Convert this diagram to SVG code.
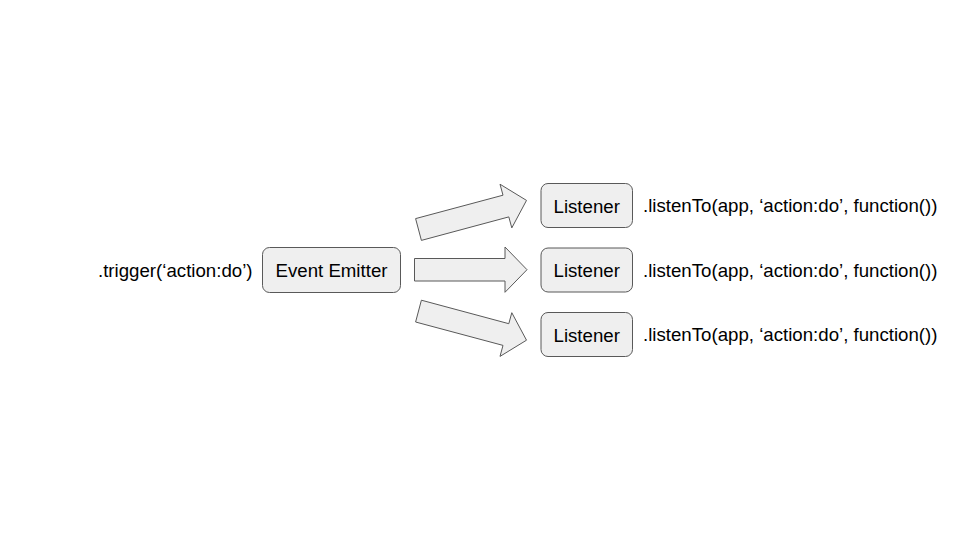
<svg xmlns="http://www.w3.org/2000/svg" width="960" height="540" viewBox="0 0 960 540">
<style>
.box{fill:#efefef;stroke:#595959;stroke-width:1}
.arrow{fill:#efefef;stroke:#595959;stroke-width:1;stroke-linejoin:miter}
text{font-family:"Liberation Sans",Arial,sans-serif;font-size:18.67px;fill:#000}
.c{text-anchor:middle}
</style>
<rect width="960" height="540" fill="#fff"/>
<g id="connectors">
<polygon class="arrow" points="415.6,218.6 503,195.2 500,184.2 526.5,200.4 511.8,227.9 508.8,216.9 421.4,240.4"/>
<polygon class="arrow" points="414.5,258.5 505,258.5 505,247 527,269.7 505,292.3 505,281 414.5,281"/>
<polygon class="arrow" points="415.6,322 503,345.4 500,356.4 526.5,340.2 511.8,312.7 508.8,323.7 421.4,300.2"/>
</g>
<g id="trigger-label"><text x="98" y="277">.trigger(‘action:do’)</text></g>
<g id="emitter">
<rect class="box" x="262.5" y="247.5" width="138" height="45" rx="7"/>
<text class="c" x="331.5" y="277">Event Emitter</text>
</g>
<g id="listener1">
<rect class="box" x="541" y="183.5" width="91.5" height="44" rx="7"/>
<text class="c" x="586.7" y="212.5">Listener</text>
</g>
<g id="listener2">
<rect class="box" x="541" y="248" width="91.5" height="44" rx="7"/>
<text class="c" x="586.7" y="277">Listener</text>
</g>
<g id="listener3">
<rect class="box" x="541" y="312.5" width="91.5" height="44" rx="7"/>
<text class="c" x="586.7" y="341.5">Listener</text>
</g>
<g id="listen-labels">
<text x="643" y="212">.listenTo(app, ‘action:do’, function())</text>
<text x="643" y="276.5">.listenTo(app, ‘action:do’, function())</text>
<text x="643" y="341">.listenTo(app, ‘action:do’, function())</text>
</g>
</svg>
